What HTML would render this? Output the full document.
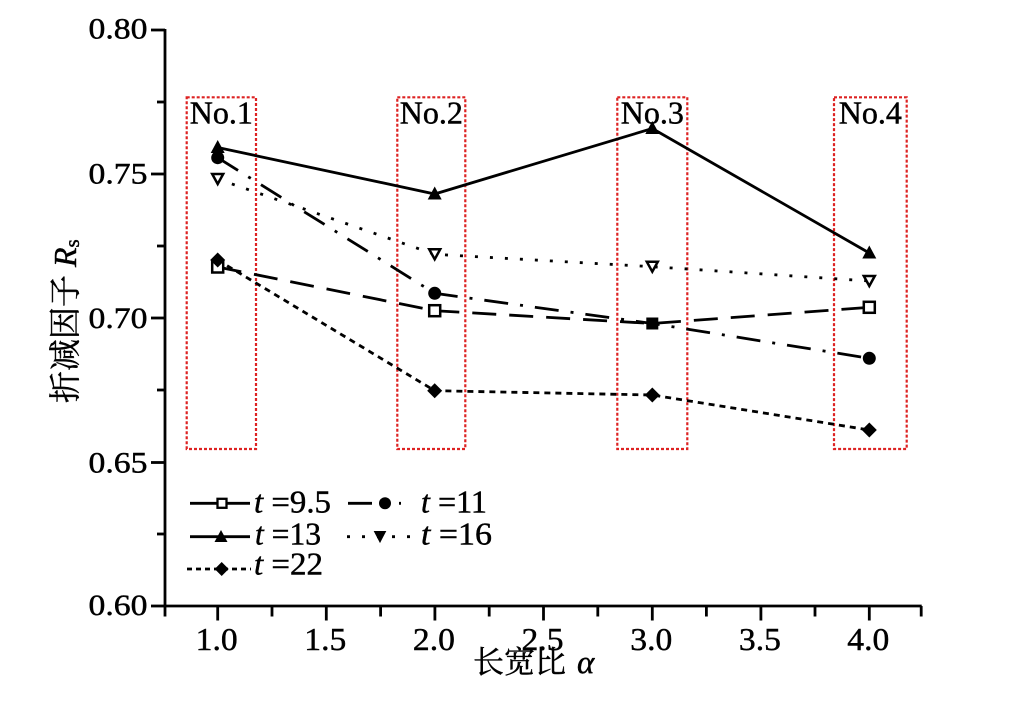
<!DOCTYPE html>
<html>
<head>
<meta charset="utf-8">
<style>
  html, body { margin: 0; padding: 0; background: #ffffff; }
  body { width: 1009px; height: 707px; overflow: hidden; }
  svg { display: block; }
  text { font-family: "Liberation Serif", "Noto Serif CJK SC", serif; fill: #000; stroke: #000; stroke-width: 0.45px; }
</style>
</head>
<body>
<svg width="1009" height="707" viewBox="0 0 1009 707" xmlns="http://www.w3.org/2000/svg" font-family="'Liberation Serif', 'Noto Serif CJK SC', serif">
  <rect width="1009" height="707" fill="#ffffff"/>

  <!-- red dotted boxes -->
  <g fill="none" stroke="#dd2222" stroke-width="2.2" stroke-dasharray="3 2">
    <rect x="186.7" y="97.3" width="69.3" height="351.7"/>
    <rect x="397.3" y="97.3" width="68" height="351.7"/>
    <rect x="617.3" y="97.3" width="70" height="351.7"/>
    <rect x="834" y="97.3" width="72.7" height="351.7"/>
  </g>

  <!-- box labels -->
  <g font-size="32" text-anchor="middle">
    <text x="221.3" y="123.3">No.1</text>
    <text x="431.3" y="123.3">No.2</text>
    <text x="652.3" y="123.3">No.3</text>
    <text x="870.3" y="123.3">No.4</text>
  </g>

  <!-- axes -->
  <g stroke="#000" stroke-width="2.8" fill="none">
    <line x1="165" y1="29" x2="165" y2="607"/>
    <line x1="163.7" y1="606" x2="921.7" y2="606"/>
    <line x1="151" y1="30" x2="165" y2="30"/>
    <line x1="151" y1="174" x2="165" y2="174"/>
    <line x1="151" y1="318" x2="165" y2="318"/>
    <line x1="151" y1="462.5" x2="165" y2="462.5"/>
    <line x1="151" y1="606" x2="165" y2="606"/>
    <line x1="157" y1="102" x2="165" y2="102"/>
    <line x1="157" y1="246" x2="165" y2="246"/>
    <line x1="157" y1="390" x2="165" y2="390"/>
    <line x1="157" y1="534" x2="165" y2="534"/>
    <line x1="217.7" y1="606" x2="217.7" y2="620.5"/>
    <line x1="326.3" y1="606" x2="326.3" y2="620.5"/>
    <line x1="434.9" y1="606" x2="434.9" y2="620.5"/>
    <line x1="543.5" y1="606" x2="543.5" y2="620.5"/>
    <line x1="652.3" y1="606" x2="652.3" y2="620.5"/>
    <line x1="760.9" y1="606" x2="760.9" y2="620.5"/>
    <line x1="869.3" y1="606" x2="869.3" y2="620.5"/>
    <line x1="165" y1="606" x2="165" y2="616.5"/>
    <line x1="272" y1="606" x2="272" y2="616.5"/>
    <line x1="380.6" y1="606" x2="380.6" y2="616.5"/>
    <line x1="489.2" y1="606" x2="489.2" y2="616.5"/>
    <line x1="597.8" y1="606" x2="597.8" y2="616.5"/>
    <line x1="706.4" y1="606" x2="706.4" y2="616.5"/>
    <line x1="815" y1="606" x2="815" y2="616.5"/>
    <line x1="921.2" y1="606" x2="921.2" y2="616.5"/>
  </g>

  <!-- y tick labels -->
  <g font-size="30">
    <text x="88.5" y="38.5" textLength="59" lengthAdjust="spacingAndGlyphs">0.80</text>
    <text x="88.5" y="183.5" textLength="59" lengthAdjust="spacingAndGlyphs">0.75</text>
    <text x="88.5" y="327.8" textLength="59" lengthAdjust="spacingAndGlyphs">0.70</text>
    <text x="88.5" y="472.5" textLength="59" lengthAdjust="spacingAndGlyphs">0.65</text>
    <text x="88.5" y="615" textLength="59" lengthAdjust="spacingAndGlyphs">0.60</text>
  </g>

  <!-- x tick labels -->
  <g font-size="32">
    <text x="195.7" y="650" textLength="42" lengthAdjust="spacingAndGlyphs">1.0</text>
    <text x="304.3" y="650" textLength="42" lengthAdjust="spacingAndGlyphs">1.5</text>
    <text x="412.9" y="650" textLength="42" lengthAdjust="spacingAndGlyphs">2.0</text>
    <text x="521.5" y="650" textLength="42" lengthAdjust="spacingAndGlyphs">2.5</text>
    <text x="630.3" y="650" textLength="42" lengthAdjust="spacingAndGlyphs">3.0</text>
    <text x="738.9" y="650" textLength="42" lengthAdjust="spacingAndGlyphs">3.5</text>
    <text x="847.3" y="650" textLength="42" lengthAdjust="spacingAndGlyphs">4.0</text>
  </g>

  <!-- axis titles -->
  <text x="473" y="673" font-size="31">长宽比</text>
  <text x="577" y="673" font-size="33" font-style="italic">α</text>

  <text transform="translate(76,403) rotate(-90)" font-size="32">折减因子<tspan dx="8" font-style="italic">R</tspan><tspan font-size="21" dy="3">s</tspan></text>

  <!-- series lines -->
  <g fill="none" stroke="#000" stroke-width="2.8">
    <polyline points="217.7,267 434.7,310.7 652.3,323.5 869.3,307.3" stroke-dasharray="24 13"/>
    <polyline points="217.7,157.7 434.7,293.3 652.3,323.5 869.3,358.3" stroke-dasharray="24 12 3 12"/>
    <polyline points="217.7,147.5 434.7,194 652.3,128.5 869.3,253"/>
    <polyline points="217.7,179 434.7,254.3 652.3,266.7 869.3,281" stroke-dasharray="3 12"/>
    <polyline points="217.7,260 434.7,390.7 652.3,395 869.3,430" stroke-dasharray="6 5"/>
  </g>

  <!-- markers -->
  <g fill="#fff" stroke="#000" stroke-width="2.5">
    <rect x="212.2" y="261.5" width="11" height="11"/>
    <rect x="429.2" y="305.2" width="11" height="11"/>
    <rect x="863.8" y="301.8" width="11" height="11"/>
  </g>
  <rect x="646.3" y="317.5" width="12" height="12" fill="#000"/>
  <g fill="#000">
    <circle cx="217.7" cy="157.7" r="6.5"/>
    <circle cx="434.7" cy="293.3" r="6.5"/>
    <circle cx="869.3" cy="358.3" r="6.5"/>
  </g>
  <g fill="#000">
    <polygon points="217.7,140 210.7,153 224.7,153"/>
    <polygon points="434.7,186.5 427.7,199.5 441.7,199.5"/>
    <polygon points="652.3,121 645.3,134 659.3,134"/>
    <polygon points="869.3,245.5 862.3,258.5 876.3,258.5"/>
  </g>
  <g fill="#fff" stroke="#000" stroke-width="2.5" stroke-linejoin="miter">
    <polygon points="212.2,174 223.2,174 217.7,184"/>
    <polygon points="429.2,249.3 440.2,249.3 434.7,259.3"/>
    <polygon points="646.8,261.7 657.8,261.7 652.3,271.7"/>
    <polygon points="863.8,276 874.8,276 869.3,286"/>
  </g>
  <g fill="#000">
    <polygon points="217.7,252.5 225.2,260 217.7,267.5 210.2,260"/>
    <polygon points="434.7,383.2 442.2,390.7 434.7,398.2 427.2,390.7"/>
    <polygon points="652.3,387.5 659.8,395 652.3,402.5 644.8,395"/>
    <polygon points="869.3,422.5 876.8,430 869.3,437.5 861.8,430"/>
  </g>

  <!-- legend -->
  <g stroke="#000" stroke-width="2.8" fill="none">
    <line x1="190" y1="503.3" x2="250" y2="503.3"/>
    <line x1="190" y1="536.7" x2="250" y2="536.7"/>
    <line x1="187" y1="569" x2="251" y2="569" stroke-dasharray="5 4"/>
    <line x1="348" y1="503.3" x2="401" y2="503.3" stroke-dasharray="24 12 3 12"/>
    <line x1="347" y1="536.7" x2="411" y2="536.7" stroke-dasharray="3 12"/>
  </g>
  <rect x="217.5" y="498.8" width="9" height="9" fill="#fff" stroke="#000" stroke-width="2.3"/>
  <polygon points="221,530 214.5,542 227.5,542" fill="#000"/>
  <polygon points="221.7,562 228.7,569 221.7,576 214.7,569" fill="#000"/>
  <circle cx="385" cy="503.3" r="6" fill="#000"/>
  <polygon points="374.5,531.5 385.5,531.5 380,542" fill="#000" stroke="#000" stroke-width="1"/>

  <g font-size="32">
    <text x="254" y="512.5" textLength="77" lengthAdjust="spacingAndGlyphs"><tspan font-style="italic">t</tspan> =9.5</text>
    <text x="255" y="544.5" textLength="66" lengthAdjust="spacingAndGlyphs"><tspan font-style="italic">t</tspan> =13</text>
    <text x="254" y="574.5" textLength="69" lengthAdjust="spacingAndGlyphs"><tspan font-style="italic">t</tspan> =22</text>
    <text x="421" y="512.5" textLength="66" lengthAdjust="spacingAndGlyphs"><tspan font-style="italic">t</tspan> =11</text>
    <text x="421" y="544.5" textLength="71" lengthAdjust="spacingAndGlyphs"><tspan font-style="italic">t</tspan> =16</text>
  </g>
</svg>
</body>
</html>
